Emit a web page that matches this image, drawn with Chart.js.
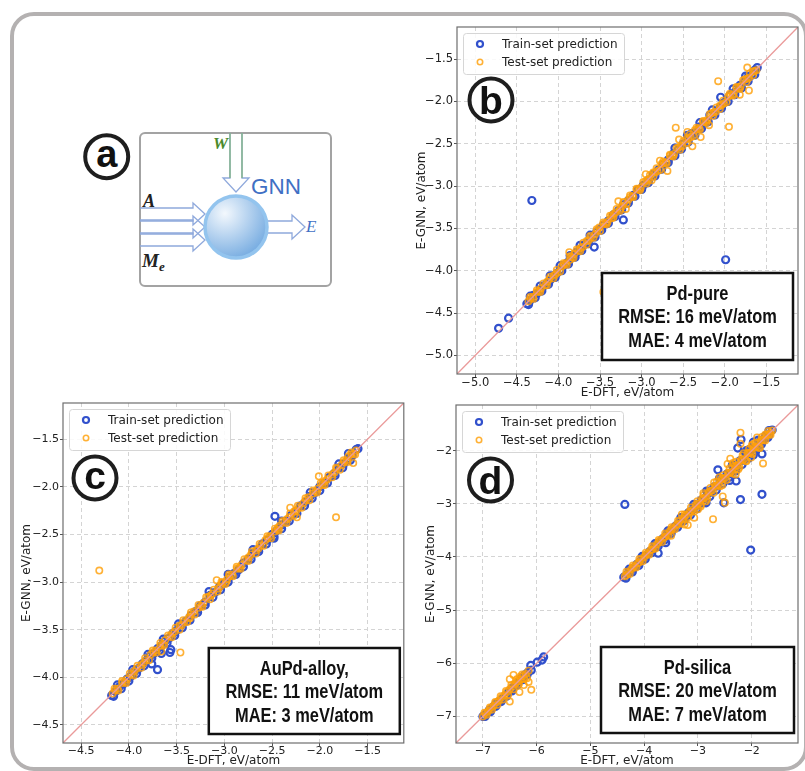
<!DOCTYPE html>
<html>
<head>
<meta charset="utf-8">
<script src="https://cdn.jsdelivr.net/npm/chart.js@4.4.1/dist/chart.umd.min.js"></script>
<style>
  html, body { margin: 0; padding: 0; background: #fff; }
  #page { position: relative; width: 805px; height: 771px; overflow: hidden; }
  #frame { position: absolute; left: 10px; top: 12px; width: 798px; height: 759px; box-sizing: border-box;
           border: 4.5px solid #b4b1b1; border-radius: 24px; }
  canvas { position: absolute; }
  #chartB { left: 400px; top: 0; }
  #chartC { left: 0; top: 390px; }
  #chartD { left: 405px; top: 390px; }
  #diagram { position: absolute; left: 0; top: 0; }
</style>
</head>
<body>
<div id="page">
  <div id="frame"></div>
  <svg id="diagram" width="400" height="300" xmlns="http://www.w3.org/2000/svg">
    <defs>
      <radialGradient id="ball" cx="0.32" cy="0.28" r="0.85">
        <stop offset="0" stop-color="#f3f8fd"/>
        <stop offset="1" stop-color="#6aa4de"/>
      </radialGradient>
    </defs>
    <circle cx="106.7" cy="156.7" r="21.5" fill="#fff" stroke="#1e1e1e" stroke-width="4"/>
    <text x="106.7" y="166.7" text-anchor="middle" font-family="Liberation Sans, Arial, sans-serif" font-weight="bold" font-size="38" fill="#111">a</text>
    <rect x="140" y="133" width="191" height="153" rx="5" fill="#fff" stroke="#a3a3a3" stroke-width="2"/>
    <!-- W input -->
    <path d="M230 133 V178 H223 L236 192 L249 178 H242 V133" fill="none" stroke="#8fa9dc" stroke-width="1.3"/>
    <line x1="230" y1="133" x2="230" y2="178" stroke="#7fb37f" stroke-width="1.3"/>
    <line x1="242" y1="133" x2="242" y2="178" stroke="#7fb37f" stroke-width="1.3"/>
    <!-- A / Me inputs -->
    <path d="M140 208 H193 V203 L205 214 L193 225 V220 H140" fill="none" stroke="#8fa9dc" stroke-width="1.3"/>
    <path d="M140 221 H193 V216 L205 227 L193 238 V233 H140" fill="none" stroke="#8fa9dc" stroke-width="1.3"/>
    <path d="M140 234 H193 V229 L205 240 L193 251 V246 H140" fill="none" stroke="#8fa9dc" stroke-width="1.3"/>
    <!-- output -->
    <path d="M266 221 H292 V215 L305 227 L292 239 V233 H266" fill="none" stroke="#8fa9dc" stroke-width="1.3"/>
    <circle cx="236" cy="227" r="31" fill="url(#ball)" stroke="#93c4ee" stroke-width="3.5"/>
    <text x="213" y="149" font-family="Liberation Serif, DejaVu Serif, serif" font-style="italic" font-weight="bold" font-size="17" fill="#4b8a2c">W</text>
    <text x="251" y="194" font-family="Liberation Sans, Arial, sans-serif" font-size="22.5" fill="#3f70c4">GNN</text>
    <text x="143" y="207" font-family="Liberation Serif, DejaVu Serif, serif" font-style="italic" font-weight="bold" font-size="18" fill="#222">A</text>
    <text x="142" y="267" font-family="Liberation Serif, DejaVu Serif, serif" font-style="italic" font-weight="bold" font-size="19" fill="#222">M<tspan font-size="13" dy="4">e</tspan></text>
    <text x="306" y="232" font-family="Liberation Serif, DejaVu Serif, serif" font-style="italic" font-size="17" fill="#3f70c4">E</text>
  </svg>
  <canvas id="chartB" width="405" height="400"></canvas>
  <canvas id="chartC" width="410" height="381"></canvas>
  <canvas id="chartD" width="400" height="381"></canvas>
</div>
<script>
// ---- data: [E-DFT, E-GNN] pairs in eV/atom ----
const seriesLabels = ['Train-set prediction', 'Test-set prediction'];

// (b) Pd-pure
const ticksB = [-5.0, -4.5, -4.0, -3.5, -3.0, -2.5, -2.0, -1.5];
const rangeB = [-5.22, -1.12];
const diagB = [-5.5, -1.0];
const statsB = ['Pd-pure', 'RMSE: 16 meV/atom', 'MAE: 4 meV/atom'];
const trainB = [
  [-4.72,-4.68],[-4.60,-4.56],[-4.32,-3.17],[-3.57,-3.72],[-3.22,-3.40],[-1.99,-3.87],
  [-4.38,-4.39],[-4.34,-4.35],[-4.30,-4.29],[-4.26,-4.27],[-4.22,-4.23],[-4.18,-4.18],[-4.14,-4.15],
  [-4.10,-4.11],[-4.06,-4.06],[-4.02,-4.03],[-3.98,-3.99],[-3.94,-3.94],[-3.90,-3.91],[-3.86,-3.86],
  [-3.82,-3.83],[-3.78,-3.78],[-3.74,-3.75],[-3.70,-3.70],[-3.66,-3.67],[-3.62,-3.62],[-3.58,-3.59],
  [-3.54,-3.54],[-3.50,-3.51],[-3.46,-3.46],[-3.40,-3.41],[-3.34,-3.34],[-3.28,-3.29],[-3.22,-3.22],
  [-3.16,-3.17],[-3.10,-3.11],[-3.04,-3.04],[-2.98,-2.99],[-2.92,-2.93],[-2.86,-2.86],[-2.80,-2.81],
  [-2.74,-2.74],[-2.68,-2.69],[-2.62,-2.62],[-2.56,-2.57],[-2.50,-2.50],[-2.44,-2.43],[-2.40,-2.38],
  [-2.36,-2.37],[-2.30,-2.30],[-2.24,-2.25],[-2.18,-2.16],[-2.12,-2.13],[-2.06,-2.07],[-2.05,-1.95],
  [-2.00,-2.01],[-1.94,-1.93],[-1.88,-1.89],[-1.82,-1.81],[-1.76,-1.76],[-1.72,-1.71],[-1.68,-1.69],
  [-1.64,-1.63],[-1.61,-1.60],
  [-4.36,-4.40],[-4.28,-4.32],[-4.20,-4.24],[-4.12,-4.16],[-4.04,-4.08],[-3.96,-4.00],[-3.88,-3.92],
  [-3.80,-3.84],[-3.72,-3.76],[-3.64,-3.68],[-3.56,-3.60],[-3.48,-3.52],[-3.40,-3.44],[-3.32,-3.36],
  [-3.24,-3.28],[-3.16,-3.20],[-3.08,-3.12],[-3.00,-3.04],[-2.92,-2.96],[-2.84,-2.88],[-2.76,-2.80],
  [-2.68,-2.72],[-2.60,-2.64],[-2.52,-2.56],[-2.44,-2.48],[-2.36,-2.40],[-2.28,-2.32],[-2.20,-2.24],
  [-2.12,-2.16],[-2.04,-2.08],[-1.96,-2.00],[-1.88,-1.92],[-1.80,-1.84],[-1.72,-1.76],[-1.64,-1.68],
  [-4.34,-4.30],[-4.22,-4.18],[-4.10,-4.06],[-3.98,-3.94],[-3.86,-3.82],[-3.74,-3.70],[-3.62,-3.58],
  [-2.60,-2.55],[-2.45,-2.40],[-2.30,-2.25],[-2.15,-2.10],[-1.90,-1.85],[-1.75,-1.70]
];
const testB = [
  [-3.46,-4.25],[-1.95,-2.30],[-1.71,-1.87],[-1.82,-1.92],[-2.08,-1.76],[-1.73,-1.60],[-2.39,-2.53],
  [-2.29,-2.42],[-2.59,-2.31],[-2.69,-2.82],[-2.88,-2.93],[-3.19,-3.27],[-3.28,-3.18],[-3.87,-3.78],
  [-2.19,-2.28],[-2.45,-2.36],[-2.55,-2.45],[-2.78,-2.70],[-2.95,-2.86],[-3.36,-3.38],
  [-4.36,-4.36],[-4.31,-4.31],[-4.26,-4.25],[-4.21,-4.21],[-4.16,-4.17],[-4.11,-4.10],[-4.06,-4.06],
  [-4.01,-4.02],[-3.96,-3.95],[-3.91,-3.91],[-3.86,-3.87],[-3.81,-3.80],[-3.76,-3.76],[-3.71,-3.72],
  [-3.66,-3.65],[-3.61,-3.61],[-3.56,-3.57],[-3.51,-3.49],[-3.46,-3.45],[-3.41,-3.42],[-3.36,-3.35],
  [-3.31,-3.31],[-3.26,-3.27],[-3.21,-3.19],[-3.16,-3.16],[-3.11,-3.12],[-3.06,-3.04],[-3.01,-3.02],
  [-2.96,-2.95],[-2.91,-2.92],[-2.86,-2.84],[-2.81,-2.82],[-2.76,-2.74],[-2.71,-2.72],[-2.66,-2.64],
  [-2.61,-2.62],[-2.56,-2.55],[-2.51,-2.53],[-2.46,-2.44],[-2.41,-2.42],[-2.36,-2.34],[-2.31,-2.32],
  [-2.26,-2.24],[-2.21,-2.22],[-2.16,-2.14],[-2.11,-2.12],[-2.06,-2.05],[-2.01,-2.02],[-1.96,-1.94],
  [-1.91,-1.92],[-1.86,-1.84],[-1.81,-1.82],[-1.76,-1.74],[-1.71,-1.72],[-1.66,-1.65],[-1.62,-1.63],
  [-4.335,-4.33],[-4.235,-4.24],[-4.135,-4.13],[-4.035,-4.04],[-3.935,-3.93],[-3.835,-3.84],[-3.735,-3.73],
  [-3.635,-3.64],[-3.535,-3.53],[-3.435,-3.44],[-3.335,-3.33],[-3.235,-3.24],[-3.135,-3.13],[-3.035,-3.04],
  [-2.935,-2.93],[-2.835,-2.84],[-2.735,-2.73],[-2.635,-2.64],[-2.535,-2.53],[-2.435,-2.44],[-2.335,-2.33],
  [-2.235,-2.24],[-2.135,-2.13],[-2.035,-2.04],[-1.935,-1.93],[-1.835,-1.84],[-1.735,-1.73],[-1.645,-1.64],
  [-4.34,-4.31],[-4.26,-4.23],[-4.18,-4.15],[-4.10,-4.07],[-4.02,-3.99],[-3.94,-3.91],[-3.86,-3.83],
  [-3.78,-3.75],[-3.70,-3.67],[-3.62,-3.59],[-3.54,-3.51],[-3.46,-3.43],[-3.38,-3.35],[-3.30,-3.27],
  [-3.22,-3.19],[-3.14,-3.11],[-3.06,-3.03],[-2.98,-2.95],[-2.90,-2.87],[-2.82,-2.79],[-2.74,-2.71],
  [-2.66,-2.63],[-2.58,-2.55],[-2.50,-2.47],[-2.42,-2.39],[-2.34,-2.31],[-2.26,-2.23],[-2.18,-2.15],
  [-2.10,-2.07],[-2.02,-1.99],[-1.94,-1.91],[-1.86,-1.83],[-1.78,-1.75],[-1.70,-1.67],
  [-4.30,-4.33],[-4.22,-4.25],[-4.14,-4.17],[-4.06,-4.09],[-3.98,-4.01],[-3.90,-3.93],[-3.82,-3.85],
  [-3.74,-3.77],[-3.66,-3.69],[-3.58,-3.61],[-3.50,-3.53],[-3.42,-3.45],[-3.34,-3.37],[-3.26,-3.29],
  [-3.18,-3.21],[-3.10,-3.13],[-3.02,-3.05],[-2.94,-2.97],[-2.86,-2.89],[-2.78,-2.81],[-2.70,-2.73],
  [-2.62,-2.65],[-2.54,-2.57],[-2.46,-2.49],[-2.38,-2.41],[-2.30,-2.33],[-2.22,-2.25],[-2.14,-2.17],
  [-2.06,-2.09],[-1.98,-2.01],[-1.90,-1.93],[-1.82,-1.85],[-1.74,-1.77],[-1.66,-1.69]
];

// (c) AuPd-alloy
const ticksC = [-4.5, -4.0, -3.5, -3.0, -2.5, -2.0, -1.5];
const rangeC = [-4.69, -1.12];
const diagC = [-5.0, -1.0];
const statsC = ['AuPd-alloy,', 'RMSE: 11 meV/atom', 'MAE: 3 meV/atom'];
const trainC = [
  [-2.47,-2.31],[-2.48,-2.54],[-3.76,-3.86],[-3.70,-3.92],[-3.56,-3.71],[-3.57,-3.74],[-3.66,-3.75],
  [-4.18,-4.19],[-4.14,-4.15],[-4.10,-4.10],[-4.06,-4.07],[-4.02,-4.02],[-3.98,-3.99],[-3.94,-3.94],
  [-3.90,-3.91],[-3.86,-3.86],[-3.82,-3.83],[-3.78,-3.78],[-3.74,-3.75],[-3.70,-3.70],[-3.66,-3.67],
  [-3.62,-3.62],[-3.58,-3.59],[-3.54,-3.54],[-3.50,-3.51],[-3.45,-3.45],[-3.40,-3.41],[-3.35,-3.35],
  [-3.30,-3.31],[-3.25,-3.25],[-3.20,-3.21],[-3.15,-3.14],[-3.10,-3.11],[-3.05,-3.05],[-3.00,-3.01],
  [-2.95,-2.95],[-2.90,-2.91],[-2.85,-2.87],[-2.80,-2.80],[-2.75,-2.76],[-2.70,-2.70],[-2.65,-2.66],
  [-2.60,-2.60],[-2.55,-2.56],[-2.50,-2.50],[-2.45,-2.46],[-2.40,-2.40],[-2.35,-2.36],[-2.30,-2.30],
  [-2.25,-2.26],[-2.20,-2.20],[-2.15,-2.16],[-2.10,-2.10],[-2.05,-2.06],[-2.00,-2.00],[-1.95,-1.96],
  [-1.90,-1.90],[-1.85,-1.86],[-1.80,-1.80],[-1.75,-1.76],[-1.70,-1.70],[-1.66,-1.67],[-1.62,-1.61],
  [-1.60,-1.60],
  [-4.16,-4.20],[-4.08,-4.12],[-4.00,-4.04],[-3.92,-3.96],[-3.84,-3.88],[-3.76,-3.80],[-3.68,-3.72],
  [-3.60,-3.64],[-3.52,-3.56],[-3.44,-3.48],[-3.36,-3.40],[-3.28,-3.32],[-3.20,-3.24],[-3.12,-3.16],
  [-3.04,-3.08],[-2.96,-3.00],[-2.88,-2.92],[-2.80,-2.84],[-2.72,-2.76],[-2.64,-2.68],[-2.56,-2.60],
  [-2.48,-2.52],[-2.40,-2.44],[-2.32,-2.36],[-2.24,-2.28],[-2.16,-2.20],[-2.08,-2.12],[-2.00,-2.04],
  [-1.92,-1.96],[-1.84,-1.88],[-1.76,-1.80],[-1.68,-1.72],
  [-4.12,-4.08],[-3.96,-3.92],[-3.80,-3.76],[-3.64,-3.60],[-3.48,-3.44],[-3.16,-3.10],[-2.96,-2.92],
  [-2.70,-2.66],[-2.40,-2.36],[-2.10,-2.06],[-1.80,-1.76],[-1.70,-1.65]
];
const testC = [
  [-4.31,-2.88],[-1.83,-2.32],[-2.24,-2.32],[-3.46,-3.74],[-3.66,-3.73],[-3.36,-3.38],[-3.08,-2.98],
  [-2.98,-3.00],[-1.65,-1.75],[-2.01,-1.89],[-1.97,-1.98],[-2.31,-2.22],[-2.44,-2.43],[-1.70,-1.68],
  [-4.17,-4.17],[-4.12,-4.12],[-4.07,-4.06],[-4.02,-4.02],[-3.97,-3.97],[-3.92,-3.91],[-3.87,-3.87],
  [-3.82,-3.82],[-3.77,-3.76],[-3.72,-3.72],[-3.67,-3.67],[-3.62,-3.61],[-3.57,-3.57],[-3.52,-3.52],
  [-3.47,-3.46],[-3.42,-3.42],[-3.37,-3.37],[-3.32,-3.31],[-3.27,-3.27],[-3.22,-3.22],[-3.17,-3.16],
  [-3.12,-3.12],[-3.07,-3.07],[-3.02,-3.01],[-2.97,-2.97],[-2.92,-2.92],[-2.87,-2.86],[-2.82,-2.82],
  [-2.77,-2.77],[-2.72,-2.71],[-2.67,-2.67],[-2.62,-2.62],[-2.57,-2.56],[-2.52,-2.52],[-2.47,-2.47],
  [-2.42,-2.41],[-2.37,-2.37],[-2.32,-2.32],[-2.27,-2.26],[-2.22,-2.22],[-2.17,-2.17],[-2.12,-2.11],
  [-2.07,-2.07],[-2.02,-2.02],[-1.97,-1.96],[-1.92,-1.92],[-1.87,-1.87],[-1.82,-1.81],[-1.77,-1.77],
  [-1.72,-1.72],[-1.67,-1.66],[-1.62,-1.62],
  [-4.145,-4.14],[-4.045,-4.05],[-3.945,-3.94],[-3.845,-3.85],[-3.745,-3.74],[-3.645,-3.65],[-3.545,-3.54],
  [-3.445,-3.45],[-3.345,-3.34],[-3.245,-3.25],[-3.145,-3.14],[-3.045,-3.05],[-2.945,-2.94],[-2.845,-2.85],
  [-2.745,-2.74],[-2.645,-2.65],[-2.545,-2.54],[-2.445,-2.45],[-2.345,-2.34],[-2.245,-2.25],[-2.145,-2.14],
  [-2.045,-2.05],[-1.945,-1.94],[-1.845,-1.85],[-1.745,-1.74],[-1.645,-1.65],
  [-4.15,-4.12],[-4.07,-4.04],[-3.99,-3.96],[-3.91,-3.88],[-3.83,-3.80],[-3.75,-3.72],[-3.67,-3.64],
  [-3.59,-3.56],[-3.51,-3.48],[-3.43,-3.40],[-3.35,-3.32],[-3.27,-3.24],[-3.19,-3.16],[-3.11,-3.08],
  [-3.03,-3.00],[-2.95,-2.92],[-2.87,-2.84],[-2.79,-2.76],[-2.71,-2.68],[-2.63,-2.60],[-2.55,-2.52],
  [-2.47,-2.44],[-2.39,-2.36],[-2.31,-2.28],[-2.23,-2.20],[-2.15,-2.12],[-2.07,-2.04],[-1.99,-1.96],
  [-1.91,-1.88],[-1.83,-1.80],[-1.75,-1.72],[-1.67,-1.64],
  [-4.11,-4.14],[-4.03,-4.06],[-3.95,-3.98],[-3.87,-3.90],[-3.79,-3.82],[-3.71,-3.74],[-3.63,-3.66],
  [-3.55,-3.58],[-3.47,-3.50],[-3.39,-3.42],[-3.31,-3.34],[-3.23,-3.26],[-3.15,-3.18],[-3.07,-3.10],
  [-2.99,-3.02],[-2.91,-2.94],[-2.83,-2.86],[-2.75,-2.78],[-2.67,-2.70],[-2.59,-2.62],[-2.51,-2.54],
  [-2.43,-2.46],[-2.35,-2.38],[-2.27,-2.30],[-2.19,-2.22],[-2.11,-2.14],[-2.03,-2.06],[-1.95,-1.98],
  [-1.87,-1.90],[-1.79,-1.82],[-1.71,-1.74],[-1.63,-1.66]
];

// (d) Pd-silica
const ticksD = [-7, -6, -5, -4, -3, -2];
const rangeD = [-7.5, -1.14];
const diagD = [-8.0, -1.0];
const statsD = ['Pd-silica', 'RMSE: 20 meV/atom', 'MAE: 7 meV/atom'];
const trainD = [
  [-4.36,-3.01],[-2.02,-3.87],[-1.81,-2.82],[-2.21,-2.92],[-3.74,-3.93],[-3.60,-3.73],[-1.81,-2.06],
  [-1.97,-2.08],[-2.52,-2.98],[-2.85,-2.98],[-2.41,-2.56],[-2.29,-2.57],[-2.78,-2.76],[-2.63,-2.36],
  [-2.26,-1.95],[-2.05,-1.98],[-2.20,-1.79],[-1.97,-1.84],[-2.10,-2.00],
  [-5.87,-5.88],[-5.99,-5.98],[-5.90,-5.94],[-6.10,-6.13],[-6.11,-6.04],
  [-7.00,-7.00],[-6.94,-6.95],[-6.88,-6.88],[-6.82,-6.83],[-6.76,-6.76],[-6.70,-6.72],[-6.64,-6.67],
  [-6.58,-6.61],[-6.52,-6.54],[-6.46,-6.47],[-6.40,-6.40],[-6.34,-6.35],[-6.28,-6.28],[-6.22,-6.22],
  [-6.16,-6.17],
  [-6.96,-7.00],[-6.86,-6.91],[-6.76,-6.81],[-6.66,-6.72],[-6.56,-6.62],[-6.46,-6.52],[-6.36,-6.41],
  [-6.26,-6.31],[-6.18,-6.22],
  [-4.38,-4.38],[-4.32,-4.33],[-4.26,-4.26],[-4.20,-4.21],[-4.14,-4.14],[-4.08,-4.09],[-4.02,-4.02],
  [-3.96,-3.97],[-3.90,-3.90],[-3.84,-3.85],[-3.78,-3.78],[-3.72,-3.73],[-3.66,-3.66],[-3.60,-3.61],
  [-3.54,-3.54],[-3.48,-3.49],[-3.42,-3.42],[-3.36,-3.37],[-3.30,-3.30],[-3.24,-3.25],[-3.18,-3.17],
  [-3.12,-3.13],[-3.06,-3.05],[-3.00,-3.02],[-2.94,-2.93],[-2.88,-2.90],[-2.82,-2.80],[-2.76,-2.78],
  [-2.70,-2.68],[-2.64,-2.66],[-2.58,-2.56],[-2.52,-2.55],[-2.46,-2.44],[-2.40,-2.43],[-2.34,-2.31],
  [-2.28,-2.30],[-2.22,-2.19],[-2.16,-2.18],[-2.10,-2.07],[-2.04,-2.06],[-1.98,-1.95],[-1.92,-1.94],
  [-1.86,-1.84],[-1.80,-1.82],[-1.74,-1.72],[-1.68,-1.70],[-1.62,-1.61],
  [-4.34,-4.40],[-4.22,-4.28],[-4.10,-4.16],[-3.98,-4.04],[-3.86,-3.92],[-3.74,-3.80],[-3.62,-3.68],
  [-3.50,-3.56],[-3.38,-3.44],[-3.26,-3.32],[-3.14,-3.21],[-3.02,-3.09],[-2.90,-2.98],[-2.78,-2.86],
  [-2.66,-2.74],[-2.54,-2.62],[-2.42,-2.50],[-2.30,-2.38],[-2.18,-2.26],[-2.06,-2.14],[-1.94,-2.01],
  [-1.82,-1.88],[-1.70,-1.75],
  [-4.28,-4.23],[-4.04,-3.99],[-3.80,-3.75],[-3.56,-3.51],[-3.32,-3.26],[-3.08,-3.01],[-2.84,-2.76],
  [-2.60,-2.52],[-2.36,-2.27],[-2.12,-2.03],[-1.88,-1.80],[-1.68,-1.62]
];
const testD = [
  [-6.50,-6.30],[-6.10,-6.50],[-6.32,-6.54],[-6.50,-6.72],[-6.18,-6.28],[-6.37,-6.35],[-6.24,-6.41],
  [-6.43,-6.22],[-6.30,-6.25],[-6.15,-6.35],
  [-7.00,-7.00],[-6.95,-6.94],[-6.90,-6.90],[-6.85,-6.84],[-6.80,-6.80],[-6.75,-6.74],[-6.70,-6.70],
  [-6.65,-6.64],[-6.60,-6.60],[-6.55,-6.54],[-6.50,-6.49],[-6.45,-6.44],[-6.40,-6.39],[-6.35,-6.34],
  [-6.30,-6.30],[-6.25,-6.24],[-6.20,-6.20],[-6.15,-6.14],
  [-6.97,-6.93],[-6.87,-6.83],[-6.77,-6.73],[-6.67,-6.62],[-6.57,-6.52],[-6.47,-6.41],[-6.37,-6.30],
  [-6.27,-6.21],[-6.93,-6.97],[-6.83,-6.87],[-6.73,-6.78],[-6.63,-6.68],[-6.53,-6.59],[-6.43,-6.49],
  [-6.33,-6.39],[-6.23,-6.29],
  [-2.21,-1.66],[-2.21,-1.87],[-1.79,-2.24],[-2.72,-3.29],[-3.19,-3.40],[-3.07,-3.26],[-2.50,-2.98],
  [-2.54,-2.86],[-2.35,-2.23],[-1.98,-1.88],[-2.01,-2.13],[-3.50,-3.60],[-3.25,-3.39],[-2.45,-2.25],
  [-2.40,-2.15],[-2.60,-2.50],[-1.90,-1.75],[-1.75,-1.70],[-2.10,-2.20],[-2.30,-2.45],[-2.85,-2.95],
  [-2.95,-3.05],[-3.00,-3.10],[-2.90,-2.80],[-2.70,-2.60],[-2.55,-2.65],[-2.25,-2.35],[-2.15,-2.05],
  [-2.00,-1.90],[-1.85,-1.95],[-3.30,-3.20],
  [-4.36,-4.36],[-4.30,-4.30],[-4.24,-4.23],[-4.18,-4.18],[-4.12,-4.12],[-4.06,-4.05],[-4.00,-4.00],
  [-3.94,-3.94],[-3.88,-3.87],[-3.82,-3.82],[-3.76,-3.76],[-3.70,-3.69],[-3.64,-3.64],[-3.58,-3.58],
  [-3.52,-3.51],[-3.46,-3.46],[-3.40,-3.40],[-3.34,-3.33],[-3.28,-3.28],[-3.22,-3.21],[-3.16,-3.15],
  [-3.10,-3.11],[-3.04,-3.02],[-2.98,-2.99],[-2.92,-2.90],[-2.86,-2.87],[-2.80,-2.78],[-2.74,-2.75],
  [-2.68,-2.66],[-2.62,-2.64],[-2.56,-2.53],[-2.50,-2.52],[-2.44,-2.41],[-2.38,-2.40],[-2.32,-2.29],
  [-2.26,-2.28],[-2.20,-2.17],[-2.14,-2.16],[-2.08,-2.05],[-2.02,-2.04],[-1.96,-1.93],[-1.90,-1.92],
  [-1.84,-1.82],[-1.78,-1.80],[-1.72,-1.70],[-1.66,-1.67],[-1.62,-1.62],
  [-4.33,-4.34],[-4.21,-4.20],[-4.09,-4.10],[-3.97,-3.96],[-3.85,-3.86],[-3.73,-3.72],[-3.61,-3.62],
  [-3.49,-3.48],[-3.37,-3.38],[-3.25,-3.24],[-3.13,-3.14],[-3.01,-3.00],[-2.89,-2.90],[-2.77,-2.76],
  [-2.65,-2.66],[-2.53,-2.52],[-2.41,-2.42],[-2.29,-2.28],[-2.17,-2.18],[-2.05,-2.04],[-1.93,-1.94],
  [-1.81,-1.80],[-1.69,-1.70],
  [-4.33,-4.28],[-4.21,-4.16],[-4.09,-4.04],[-3.97,-3.92],[-3.85,-3.80],[-3.73,-3.68],[-3.61,-3.56],
  [-3.49,-3.44],[-3.37,-3.32],[-3.25,-3.20],[-3.13,-3.07],[-3.01,-2.95],[-2.89,-2.83],[-2.77,-2.70],
  [-2.65,-2.58],[-2.53,-2.46],[-2.41,-2.33],[-2.29,-2.21],[-2.17,-2.09],[-2.05,-1.97],[-1.93,-1.85],
  [-1.81,-1.74],[-1.69,-1.63],
  [-4.27,-4.32],[-4.15,-4.20],[-4.03,-4.08],[-3.91,-3.96],[-3.79,-3.84],[-3.67,-3.72],[-3.55,-3.60],
  [-3.43,-3.48],[-3.31,-3.37],[-3.19,-3.25],[-3.07,-3.14],[-2.95,-3.02],[-2.83,-2.91],[-2.71,-2.79],
  [-2.59,-2.67],[-2.47,-2.55],[-2.35,-2.43],[-2.23,-2.31],[-2.11,-2.19],[-1.99,-2.06],[-1.87,-1.94],
  [-1.75,-1.81],[-1.65,-1.70]
];

// ---- styling ----
const TRAIN_COLOR = '#3150cc';
const TEST_COLOR = 'rgba(255,160,10,0.82)';
const MINUS = '\u2212';
const fmt1 = v => (v < 0 ? MINUS : '') + Math.abs(v).toFixed(1);
const fmt0 = v => (v < 0 ? MINUS : '') + Math.abs(v).toFixed(0);

// Liberation Sans Narrow may be missing; fall back to a squeezed Liberation Sans
function hasFont(name) {
  const c = document.createElement('canvas').getContext('2d');
  c.font = '20px monospace';
  const w0 = c.measureText('RMSE: 16 meV/atom').width;
  c.font = '20px "' + name + '", monospace';
  return c.measureText('RMSE: 16 meV/atom').width !== w0;
}
const NARROW = hasFont('Liberation Sans Narrow');

function narrowText(ctx, text, cx, cy, size) {
  ctx.save();
  ctx.textAlign = 'center';
  ctx.textBaseline = 'middle';
  ctx.fillStyle = '#111';
  if (NARROW) {
    ctx.font = 'bold ' + size + 'px "Liberation Sans Narrow"';
    ctx.fillText(text, cx, cy);
  } else {
    ctx.font = 'bold ' + size + 'px "Liberation Sans", Arial, sans-serif';
    ctx.translate(cx, cy);
    ctx.scale(0.82, 1);
    ctx.fillText(text, 0, 0);
  }
  ctx.restore();
}

// axes frame, inset legend, stats box and the circled panel letter
const decor = {
  id: 'decor',
  afterDatasetsDraw(chart, args, o) {
    const { ctx, chartArea: a } = chart;
    ctx.save();
    ctx.strokeStyle = '#6e6e6e';
    ctx.lineWidth = 1.2;
    ctx.strokeRect(a.left, a.top, a.right - a.left, a.bottom - a.top);

    // legend
    const lx = a.left + 6, ly = a.top + 6;
    ctx.beginPath();
    ctx.roundRect(lx + 0.5, ly + 0.5, 161, 41, 3);
    ctx.fillStyle = 'rgba(255,255,255,0.85)';
    ctx.fill();
    ctx.strokeStyle = '#d6d6d6';
    ctx.lineWidth = 1;
    ctx.stroke();
    const items = chart.data.datasets.slice(1).reverse();
    ctx.font = '12px "DejaVu Sans"';
    ctx.textBaseline = 'middle';
    items.forEach((ds, i) => {
      const y = a.top + 17 + i * 18;
      ctx.beginPath();
      ctx.arc(a.left + 23, y, i === 0 ? 3 : 2.7, 0, Math.PI * 2);
      ctx.strokeStyle = ds.borderColor;
      ctx.lineWidth = ds.borderWidth;
      ctx.stroke();
      ctx.fillStyle = '#222';
      ctx.fillText(ds.label, a.left + 45, y + 0.5);
    });

    // stats box
    const bx = a.right - o.box.right - o.box.w, by = a.bottom - o.box.bottom - o.box.h;
    ctx.fillStyle = '#fff';
    ctx.fillRect(bx, by, o.box.w, o.box.h);
    ctx.strokeStyle = '#111';
    ctx.lineWidth = 2.5;
    ctx.strokeRect(bx, by, o.box.w, o.box.h);
    o.stats.forEach((t, i) => narrowText(ctx, t, bx + o.box.w / 2, by + 21 + i * 23.5, 20));

    // circled letter
    const cx = a.left + o.ring[0], cy = a.top + o.ring[1];
    ctx.beginPath();
    ctx.arc(cx, cy, 21.5, 0, Math.PI * 2);
    ctx.fillStyle = '#fff';
    ctx.fill();
    ctx.strokeStyle = '#1e1e1e';
    ctx.lineWidth = 4;
    ctx.stroke();
    ctx.font = 'bold 39px "Liberation Sans", Arial, sans-serif';
    ctx.textAlign = 'center';
    ctx.textBaseline = 'alphabetic';
    const m = ctx.measureText(o.letter);
    ctx.fillStyle = '#111';
    ctx.fillText(o.letter, cx, cy + (m.actualBoundingBoxAscent - m.actualBoundingBoxDescent) / 2);
    ctx.restore();
  }
};

function axis(ticks, range, fmt, title, o) {
  return {
    type: 'linear',
    min: range[0],
    max: range[1],
    afterBuildTicks: s => { s.ticks = ticks.map(v => ({ value: v })); },
    afterFit: s => { if (s.isHorizontal()) s.height = o.size; else s.width = o.size; },
    grid: { color: '#d4d4d4', lineWidth: 1, drawTicks: true, tickLength: 3, tickColor: '#555' },
    border: { display: false, dash: [4, 3] },
    ticks: {
      font: { family: 'DejaVu Sans', size: o.font, lineHeight: 1 },
      color: '#222', padding: o.tickPad, maxRotation: 0, autoSkip: false,
      callback: v => fmt(v)
    },
    title: { display: true, text: title, color: '#222', font: { family: 'DejaVu Sans', size: 12 }, padding: o.titlePad }
  };
}

function makeChart(id, train, test, diag, ticks, range, fmt, deco, lay) {
  return new Chart(document.getElementById(id), {
    type: 'scatter',
    data: {
      datasets: [
        { label: 'y = x', data: diag.map(v => ({ x: v, y: v })), showLine: true,
          borderColor: '#ea9a9a', borderWidth: 1.3, pointRadius: 0 },
        { label: seriesLabels[1], data: test.map(p => ({ x: p[0], y: p[1] })),
          borderColor: TEST_COLOR, backgroundColor: 'rgba(0,0,0,0)', borderWidth: 1.6, pointRadius: 3.2 },
        { label: seriesLabels[0], data: train.map(p => ({ x: p[0], y: p[1] })),
          borderColor: TRAIN_COLOR, backgroundColor: 'rgba(0,0,0,0)', borderWidth: 2.2, pointRadius: 3.5 }
      ]
    },
    options: {
      responsive: false,
      animation: false,
      devicePixelRatio: 1,
      layout: { padding: lay.pad },
      plugins: { legend: { display: false }, tooltip: { enabled: false }, decor: deco },
      scales: {
        x: axis(ticks, range, fmt, 'E-DFT, eV/atom',
          { size: lay.xh, font: lay.font, tickPad: 0, titlePad: { top: 0, bottom: lay.xTitle } }),
        y: axis(ticks, range, fmt, 'E-GNN, eV/atom',
          { size: lay.yw, font: lay.font, tickPad: 1, titlePad: { top: lay.yTitle, bottom: 0 } })
      }
    },
    plugins: [decor]
  });
}

makeChart('chartB', trainB, testB, diagB, ticksB, rangeB, fmt1,
  { stats: statsB, letter: 'b', ring: [34, 73], box: { right: 5, bottom: 14, w: 191, h: 87 } },
  { pad: { left: 0, right: 7, top: 27, bottom: 0 }, yw: 57, xh: 26, font: 11.5, xTitle: 0.3, yTitle: 14.5 });

makeChart('chartC', trainC, testC, diagC, ticksC, rangeC, fmt1,
  { stats: statsC, letter: 'c', ring: [32, 75], box: { right: 4, bottom: 9, w: 191, h: 86 } },
  { pad: { left: 0, right: 5, top: 13, bottom: 0 }, yw: 63, xh: 28, font: 11, xTitle: 3, yTitle: 19.8 });

makeChart('chartD', trainD, testD, diagD, ticksD, rangeD, fmt0,
  { stats: statsD, letter: 'd', ring: [34.5, 75], box: { right: 4, bottom: 10, w: 193, h: 86 } },
  { pad: { left: 0, right: 7, top: 15, bottom: 0 }, yw: 51, xh: 28, font: 11, xTitle: 3, yTitle: 18.8 });
</script>
</body>
</html>
